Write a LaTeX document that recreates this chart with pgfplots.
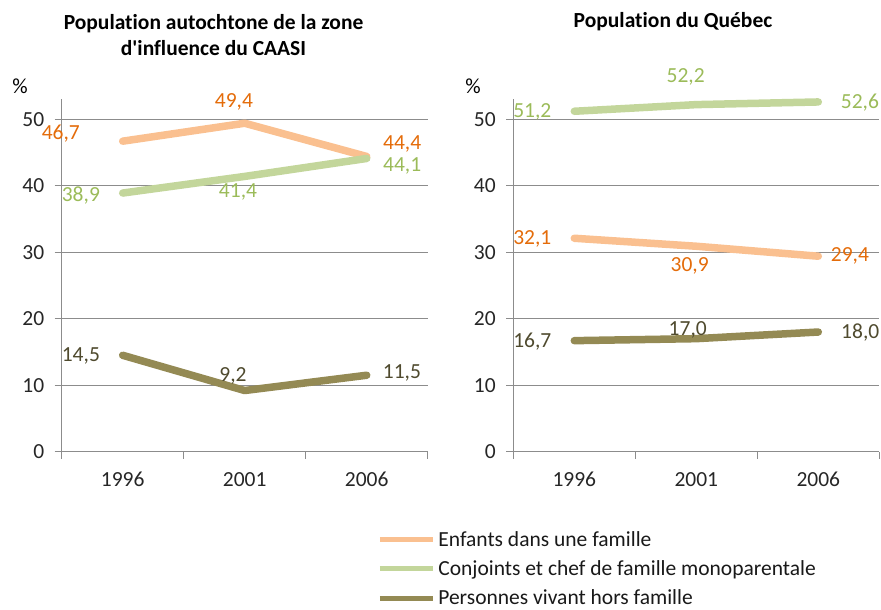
\documentclass[border=0pt]{standalone}
\usepackage{fontspec}
\setmainfont{Carlito}[Ligatures={NoCommon}]
\usepackage{pgfplots}
\pgfplotsset{compat=1.18}
\definecolor{lorange}{HTML}{FAC090}
\definecolor{dorange}{HTML}{E46C0A}
\definecolor{lgreen}{HTML}{C3D69B}
\definecolor{dgreen}{HTML}{9BBB59}
\definecolor{lolive}{HTML}{948A54}
\definecolor{dolive}{HTML}{4F4A2E}
\definecolor{gridc}{HTML}{8C8C8C}
\newcommand{\fs}{\fontsize{21.5}{26}\selectfont}
\pgfplotsset{
  excel/.style={
    scale only axis, width=366pt, height=352.4pt,
    xmin=-0.5, xmax=2.5, ymin=0, ymax=53,
    clip=false,
    axis lines=left,
    axis line style={gridc, line width=0.8pt, -},
    xtick={-0.5,0.5,1.5,2.5}, xticklabels={,,,},
    extra x ticks={0,1,2}, extra x tick labels={1996,2001,2006},
    extra x tick style={major tick length=0pt},
    ytick={0,10,20,30,40,50},
    ymajorgrids, major grid style={gridc, line width=0.8pt},
    tick align=outside, major tick length=7pt,
    tick style={gridc, line width=0.8pt},
    /pgf/number format/assume math mode=true,
    tick label style={font=\fs, text=black!85},
    yticklabel style={xshift=-7pt},
    xticklabel style={yshift=-17pt},
  },
  serA/.style={lorange, line width=7.5pt, line cap=round, line join=round},
  serB/.style={lgreen, line width=7.5pt, line cap=round, line join=round},
  serC/.style={lolive, line width=7.5pt, line cap=round, line join=round},
}
\begin{document}
\begin{tikzpicture}[x=1pt,y=1pt]
\path[use as bounding box] (0,0) rectangle (881,610);
% titles
\node[font=\fs\bfseries, align=center, text=black] at (213.5,575) {Population autochtone de la zone\\d\textquotesingle influence du CAASI};
\node[font=\fs\bfseries, text=black] at (673,588) {Population du Québec};
\node[font=\fs, text=black] at (20,524) {\%};
\node[font=\fs, text=black] at (473,524) {\%};

\begin{axis}[excel, at={(61.7pt,158.3pt)}, anchor=south west]
\addplot[serA] coordinates {(0,46.7) (1,49.4) (2,44.4)};
\addplot[serB] coordinates {(0,38.9) (1,41.4) (2,44.1)};
\addplot[serC] coordinates {(0,14.5) (1,9.2) (2,11.5)};
\begin{scope}[every node/.style={font=\fs}]
\node[text=dorange] at (axis cs:-0.507,47.77) {46,7};
\node[text=dorange] at (axis cs:0.912,52.63) {49,4};
\node[text=dorange] at (axis cs:2.291,46.27) {44,4};
\node[text=dgreen] at (axis cs:-0.343,38.6) {38,9};
\node[text=dgreen] at (axis cs:0.945,39.1) {41,4};
\node[text=dgreen] at (axis cs:2.291,42.96) {44,1};
\node[text=dolive] at (axis cs:-0.343,14.39) {14,5};
\node[text=dolive] at (axis cs:0.904,11.38) {9,2};
\node[text=dolive] at (axis cs:2.289,11.79) {11,5};
\end{scope}
\end{axis}

\begin{axis}[excel, at={(513.3pt,158.3pt)}, anchor=south west,
  legend style={at={(axis description cs:-0.372,-0.2165)}, anchor=north west,
    draw=none, fill=none, font=\fs, text=black!90, inner sep=0pt,
    row sep=7pt, column sep=0pt,
    nodes={inner sep=3pt, anchor=west}},
  legend cell align=left,
  legend image code/.code={\draw[#1, line width=5pt, line cap=butt] (0pt,0pt) -- (53pt,0pt);},
]
\addplot[serA] coordinates {(0,32.1) (1,30.9) (2,29.4)};
\addplot[serB] coordinates {(0,51.2) (1,52.2) (2,52.6)};
\addplot[serC] coordinates {(0,16.7) (1,17.0) (2,18.0)};
\legend{Enfants dans une famille, Conjoints et chef de famille monoparentale, Personnes vivant hors famille}
\begin{scope}[every node/.style={font=\fs}]
\node[text=dgreen] at (axis cs:-0.344,51.13) {51,2};
\node[text=dgreen] at (axis cs:0.913,56.3) {52,2};
\node[text=dgreen] at (axis cs:2.341,52.48) {52,6};
\node[text=dorange] at (axis cs:-0.344,31.94) {32,1};
\node[text=dorange] at (axis cs:0.946,27.92) {30,9};
\node[text=dorange] at (axis cs:2.259,29.43) {29,4};
\node[text=dolive] at (axis cs:-0.344,16.54) {16,7};
\node[text=dolive] at (axis cs:0.930,18.3) {17,0};
\node[text=dolive] at (axis cs:2.344,17.89) {18,0};
\end{scope}
\end{axis}
\end{tikzpicture}
\end{document}
